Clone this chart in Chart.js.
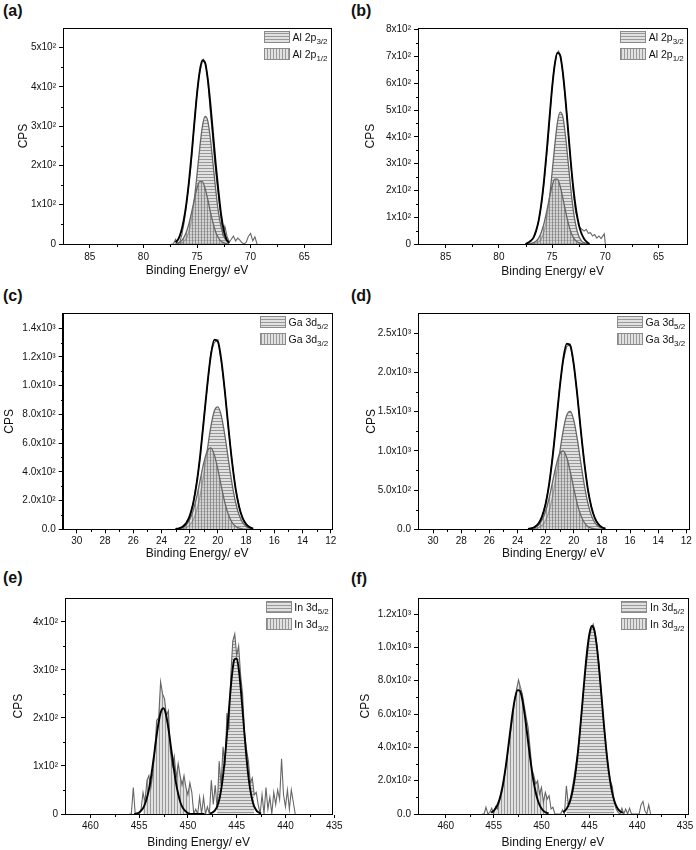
<!DOCTYPE html>
<html>
<head>
<meta charset="utf-8">
<script src="https://cdn.jsdelivr.net/npm/chart.js@4.4.1/dist/chart.umd.min.js"></script>
<style>
  body { margin: 0; background: #fff; width: 696px; height: 850px; position: relative; overflow: hidden;
         font-family: Arial, "Liberation Sans", sans-serif; }
  canvas { position: absolute; }
  .tag { position: absolute; font-weight: bold; font-size: 16px; line-height: 18px; color: #111; }
</style>
</head>
<body>
<div class="tag" style="left:3px;top:2px">(a)</div>
<div class="tag" style="left:351px;top:2px">(b)</div>
<div class="tag" style="left:3px;top:287px">(c)</div>
<div class="tag" style="left:351px;top:287px">(d)</div>
<div class="tag" style="left:3px;top:569px">(e)</div>
<div class="tag" style="left:351px;top:570px">(f)</div>

<canvas id="chartA" width="348" height="280" style="left:0;top:0"></canvas>
<canvas id="chartB" width="348" height="280" style="left:348px;top:0"></canvas>
<canvas id="chartC" width="348" height="290" style="left:0;top:280px"></canvas>
<canvas id="chartD" width="348" height="290" style="left:348px;top:280px"></canvas>
<canvas id="chartE" width="348" height="290" style="left:0;top:560px"></canvas>
<canvas id="chartF" width="348" height="290" style="left:348px;top:560px"></canvas>

<script>
// ---- (a) Al 2p ----
const aFitX = [77.0, 76.75, 76.5, 76.25, 76.0, 75.75, 75.5, 75.25, 75.0, 74.75, 74.5, 74.25, 74.0, 73.75, 73.5, 73.25, 73.0, 72.75, 72.5, 72.25, 72.0];
const aEnvelope = [4, 12, 30, 59, 101, 158, 229, 307, 382, 439, 468, 462, 421, 356, 279, 202, 135, 75, 35, 12, 3];
const aP32 = [0, 1, 2, 6, 14, 32, 64, 113, 176, 243, 299, 325, 314, 268, 203, 137, 81, 43, 20, 8, 3];
const aP12 = [1, 3, 7, 15, 30, 52, 81, 113, 142, 159, 159, 142, 114, 82, 53, 30, 16, 7, 3, 1, 0];
const aRawX = [77.4, 77.2, 77.0, 76.8, 76.6, 76.4, 76.2, 76.0, 75.8, 75.6, 75.4, 75.2, 75.0, 74.8, 74.6, 74.4, 74.2, 74.0, 73.8, 73.6,
               73.4, 73.2, 73.0, 72.8, 72.6, 72.4, 72.2, 72.0, 71.8, 71.6, 71.4, 71.2, 71.0, 70.8, 70.6, 70.4, 70.2, 70.0, 69.8, 69.6, 69.4];
const aRawY = [0, 0, 12, 0, 5, 25, 55, 96, 145, 190, 255, 325, 385, 430, 455, 470, 460, 420, 350, 290,
               225, 170, 122, 75, 25, 45, 20, 5, 12, 20, 8, 15, 10, 3, 0, 5, 20, 27, 8, 18, 0];
const aXTicks = [85, 80, 75, 70, 65];
const aXMinor = [82.5, 77.5, 72.5, 67.5];
const aYTicks = [0, 100, 200, 300, 400, 500];
const aYLabels = ['0', '1x10²', '2x10²', '3x10²', '4x10²', '5x10²'];
const aYMinor = [50, 150, 250, 350, 450];

// ---- (b) Al 2p ----
const bFitX = [77.5, 77.25, 77.0, 76.75, 76.5, 76.25, 76.0, 75.75, 75.5, 75.25, 75.0, 74.75, 74.5, 74.25, 74.0, 73.75, 73.5, 73.25, 73.0, 72.75, 72.5, 72.25, 72.0, 71.75, 71.5];
const bEnvelope = [0, 5, 12, 24, 50, 90, 154, 241, 349, 468, 583, 670, 714, 705, 642, 543, 426, 308, 206, 128, 73, 40, 20, 8, 0];
const bP32 = [0, 0, 0, 2, 3, 9, 21, 48, 97, 171, 267, 368, 453, 492, 476, 406, 308, 208, 123, 65, 30, 12, 5, 2, 0];
const bP12 = [0, 1, 2, 5, 11, 23, 46, 79, 123, 172, 216, 242, 242, 216, 173, 125, 81, 46, 24, 11, 5, 2, 0, 0, 0];
const bRawX = [77.4, 77.2, 77.0, 76.8, 76.6, 76.4, 76.2, 76.0, 75.8, 75.6, 75.4, 75.2, 75.0, 74.8, 74.6, 74.4, 74.2, 74.0, 73.8, 73.6,
               73.4, 73.2, 73.0, 72.8, 72.6, 72.4, 72.2, 72.0, 71.8, 71.6, 71.4, 71.2, 71.0, 70.8, 70.6, 70.4, 70.2, 70.1, 70.0];
const bRawY = [0, 5, 12, 20, 38, 62, 100, 150, 215, 295, 380, 485, 585, 660, 705, 720, 700, 640, 560, 470,
               375, 280, 190, 120, 95, 62, 55, 48, 55, 40, 42, 30, 35, 22, 30, 20, 32, 38, 0];
const bXTicks = [85, 80, 75, 70, 65];
const bXMinor = [82.5, 77.5, 72.5, 67.5];
const bYTicks = [0, 100, 200, 300, 400, 500, 600, 700, 800];
const bYLabels = ['0', '1x10²', '2x10²', '3x10²', '4x10²', '5x10²', '6x10²', '7x10²', '8x10²'];
const bYMinor = [50, 150, 250, 350, 450, 550, 650, 750];

// ---- (c) Ga 3d ----
const cFitX = [23.0, 22.75, 22.5, 22.25, 22.0, 21.75, 21.5, 21.25, 21.0, 20.75, 20.5, 20.25, 20.0, 19.75, 19.5, 19.25, 19.0, 18.75, 18.5, 18.25, 18.0, 17.75, 17.5];
const cEnvelope = [2, 7, 18, 42, 92, 180, 321, 517, 757, 1004, 1209, 1320, 1307, 1174, 956, 706, 474, 288, 159, 79, 36, 15, 5];
const cD52 = [0, 1, 4, 12, 29, 65, 132, 237, 383, 552, 713, 824, 852, 788, 652, 483, 320, 190, 101, 48, 20, 8, 3];
const cD32 = [1, 4, 12, 30, 67, 131, 226, 345, 462, 545, 567, 518, 417, 296, 184, 101, 49, 21, 8, 3, 1, 0, 0];
const cRaw = [0, 5, 20, 45, 88, 185, 330, 505, 770, 990, 1230, 1300, 1320, 1160, 960, 700, 480, 280, 165, 75, 40, 10, 0];
const cXTicks = [30, 28, 26, 24, 22, 20, 18, 16, 14, 12];
const cXMinor = [29, 27, 25, 23, 21, 19, 17, 15, 13];
const cYTicks = [0, 200, 400, 600, 800, 1000, 1200, 1400];
const cYLabels = ['0.0', '2.0x10²', '4.0x10²', '6.0x10²', '8.0x10²', '1.0x10³', '1.2x10³', '1.4x10³'];
const cYMinor = [100, 300, 500, 700, 900, 1100, 1300];

// ---- (d) Ga 3d ----
const dFitX = [23.25, 23.0, 22.75, 22.5, 22.25, 22.0, 21.75, 21.5, 21.25, 21.0, 20.75, 20.5, 20.25, 20.0, 19.75, 19.5, 19.25, 19.0, 18.75, 18.5, 18.25, 18.0, 17.75];
const dEnvelope = [4, 13, 32, 75, 165, 323, 576, 927, 1357, 1800, 2168, 2367, 2343, 2105, 1714, 1266, 850, 516, 285, 142, 65, 27, 9];
const dD52 = [0, 2, 7, 21, 51, 115, 233, 419, 677, 975, 1260, 1456, 1505, 1392, 1152, 853, 565, 336, 178, 85, 35, 14, 5];
const dD32 = [2, 7, 21, 53, 118, 231, 399, 609, 816, 962, 1001, 915, 736, 523, 325, 178, 87, 37, 14, 5, 2, 0, 0];
const dRaw = [0, 10, 35, 80, 160, 330, 560, 940, 1340, 1820, 2150, 2330, 2360, 2100, 1720, 1250, 860, 500, 290, 140, 60, 20, 0];
const dXTicks = [30, 28, 26, 24, 22, 20, 18, 16, 14, 12];
const dXMinor = [29, 27, 25, 23, 21, 19, 17, 15, 13];
const dYTicks = [0, 500, 1000, 1500, 2000, 2500];
const dYLabels = ['0.0', '5.0x10²', '1.0x10³', '1.5x10³', '2.0x10³', '2.5x10³'];
const dYMinor = [250, 750, 1250, 1750, 2250];

// ---- (e) In 3d ----
const eFit32X = [455.5, 455.0, 454.75, 454.5, 454.25, 454.0, 453.75, 453.5, 453.25, 453.0, 452.75, 452.5, 452.25, 452.0, 451.75, 451.5, 451.25, 451.0, 450.75, 450.5, 450.25, 450.0, 449.5, 448.3];
const eFit32Y = [0, 3, 8, 16, 30, 51, 81, 118, 157, 191, 214, 220, 207, 178, 141, 103, 68, 42, 23, 12, 6, 2, 0, 0];
const eFit52X = [447.75, 447.5, 447.25, 447.0, 446.75, 446.5, 446.25, 446.0, 445.75, 445.5, 445.25, 445.0, 444.75, 444.5, 444.25, 444.0, 443.75, 443.5, 443.25, 443.0, 442.75, 442.5];
const eFit52Y = [1, 3, 7, 16, 33, 63, 107, 165, 229, 286, 321, 324, 295, 241, 178, 118, 70, 38, 18, 8, 3, 1];
const eRawX = [456.0, 455.8, 455.6, 455.4, 455.2, 455.0, 454.8, 454.6, 454.4, 454.2,
               454.0, 453.8, 453.6, 453.4, 453.2, 453.0, 452.8, 452.6, 452.4, 452.2,
               452.0, 451.8, 451.6, 451.4, 451.2, 451.0, 450.8, 450.6, 450.4, 450.2,
               450.0, 449.8, 449.6, 449.4, 449.2, 449.0, 448.8, 448.6, 448.4, 448.2,
               448.0, 447.8, 447.6, 447.4, 447.2, 447.0, 446.8, 446.6, 446.4, 446.2,
               446.0, 445.8, 445.6, 445.4, 445.2, 445.0, 444.8, 444.6, 444.4, 444.2,
               444.0, 443.8, 443.6, 443.4, 443.2, 443.0, 442.8, 442.6, 442.4, 442.2,
               442.0, 441.8, 441.6, 441.4, 441.2, 441.0, 440.8, 440.6, 440.4, 440.2,
               440.0, 439.8, 439.6, 439.4, 439.2, 439.0];
const eRawY = [0, 0, 55, 0, 0, 0, 10, 45, 25, 70,
               80, 55, 85, 130, 195, 200, 275, 250, 240, 205,
               215, 130, 100, 120, 75, 105, 80, 60, 80, 55,
               40, 65, 45, 0, 10, 0, 35, 0, 35, 0,
               15, 0, 70, 20, 60, 10, 110, 60, 140, 100,
               210, 175, 290, 360, 375, 330, 350, 290, 250, 170,
               135, 110, 65, 75, 40, 45, 20, 0, 40, 0,
               55, 10, 35, 0, 45, 20, 50, 30, 115, 40,
               15, 50, 10, 50, 25, 0];
const eBand32 = [449.8, 454.6];
const eBand52 = [443.2, 447.0];
const eXTicks = [460, 455, 450, 445, 440, 435];
const eXMinor = [457.5, 452.5, 447.5, 442.5, 437.5];
const eYTicks = [0, 100, 200, 300, 400];
const eYLabels = ['0', '1x10²', '2x10²', '3x10²', '4x10²'];
const eYMinor = [50, 150, 250, 350];

// ---- (f) In 3d ----
const fFit32X = [455.25, 455.0, 454.75, 454.5, 454.25, 454.0, 453.75, 453.5, 453.25, 453.0, 452.75, 452.5, 452.25, 452.0, 451.75, 451.5, 451.25, 451.0, 450.75, 450.5, 450.25, 450.0, 449.75, 449.5, 449.25];
const fFit32Y = [8, 19, 37, 68, 117, 186, 278, 388, 505, 615, 700, 744, 739, 686, 595, 482, 365, 258, 171, 105, 61, 33, 17, 8, 3];
const fFit52X = [447.75, 447.5, 447.25, 447.0, 446.75, 446.5, 446.25, 446.0, 445.75, 445.5, 445.25, 445.0, 444.75, 444.5, 444.25, 444.0, 443.75, 443.5, 443.25, 443.0, 442.75, 442.5, 442.25, 442.0, 441.75, 441.5];
const fFit52Y = [11, 22, 44, 80, 138, 224, 340, 485, 651, 821, 972, 1080, 1129, 1108, 1021, 885, 720, 550, 395, 266, 169, 100, 56, 29, 15, 7];
const fRawX = [456.2, 456.0, 455.8, 455.6, 455.4, 455.2, 455.0, 454.8, 454.6, 454.4,
               454.2, 454.0, 453.8, 453.6, 453.4, 453.2, 453.0, 452.8, 452.6, 452.4,
               452.2, 452.0, 451.8, 451.6, 451.4, 451.2, 451.0, 450.8, 450.6, 450.4,
               450.2, 450.0, 449.8, 449.6, 449.4, 449.2, 449.0, 448.8, 448.6, 448.4,
               448.2, 448.0, 447.8, 447.6, 447.4, 447.2, 447.0, 446.8, 446.6, 446.4,
               446.2, 446.0, 445.8, 445.6, 445.4, 445.2, 445.0, 444.8, 444.6, 444.4,
               444.2, 444.0, 443.8, 443.6, 443.4, 443.2, 443.0, 442.8, 442.6, 442.4,
               442.2, 442.0, 441.8, 441.6, 441.4, 441.2, 441.0, 440.8, 440.6, 440.4,
               440.2, 440.0, 439.8, 439.6, 439.4, 439.2, 439.0, 438.8, 438.6];
const fRawY = [0, 0, 40, 0, 10, 35, 0, 45, 30, 75,
               110, 175, 250, 330, 420, 500, 590, 680, 750, 805,
               760, 720, 650, 580, 520, 400, 270, 230, 180, 200,
               120, 160, 70, 130, 90, 110, 30, 40, 0, 0,
               0, 0, 25, 0, 170, 60, 90, 150, 220, 300,
               380, 490, 610, 740, 860, 960, 1060, 1110, 1140, 1090,
               1010, 900, 760, 620, 480, 370, 270, 200, 165, 70,
               30, 10, 0, 35, 0, 30, 0, 35, 0, 0,
               0, 0, 0, 55, 75, 20, 0, 55, 0];
const fBand32 = [449.4, 454.8];
const fBand52 = [442.4, 447.4];
const fXTicks = [460, 455, 450, 445, 440, 435];
const fXMinor = [457.5, 452.5, 447.5, 442.5, 437.5];
const fYTicks = [0, 200, 400, 600, 800, 1000, 1200];
const fYLabels = ['0.0', '2.0x10²', '4.0x10²', '6.0x10²', '8.0x10²', '1.0x10³', '1.2x10³'];
const fYMinor = [100, 300, 500, 700, 900, 1100];

const alLegend = [['Al 2p', '3/2', 'h'], ['Al 2p', '1/2', 'v']];
const gaLegend = [['Ga 3d', '5/2', 'h'], ['Ga 3d', '3/2', 'v']];
const inLegend = [['In 3d', '5/2', 'h'], ['In 3d', '3/2', 'v']];

// ---- helpers ----
const FONT = 'Arial, "Liberation Sans", sans-serif';
const FIT = '#000';
const GREY = '#666';
Chart.defaults.font.family = FONT;
Chart.defaults.color = '#111';

function pts(xs, ys) {
  return xs.map((x, i) => ({ x: x, y: ys[i] }));
}
// points of the raw spectrum that lie in an energy window (used for the hatched areas in e, f)
function band(xs, ys, win) {
  return pts(xs, ys).filter(p => p.x >= win[0] && p.x <= win[1]);
}

function makeHatch(ctx, dir) {
  const c = document.createElement('canvas');
  c.width = 3; c.height = 3;
  const g = c.getContext('2d');
  g.fillStyle = 'rgba(200,200,200,0.55)';
  g.fillRect(0, 0, 3, 3);
  g.fillStyle = 'rgba(105,105,105,0.6)';
  if (dir === 'h') g.fillRect(0, 0, 3, 1);
  else g.fillRect(0, 0, 1, 3);
  return ctx.createPattern(c, 'repeat');
}

function drawPanel(p) {
  const canvas = document.getElementById(p.id);
  const ctx = canvas.getContext('2d');
  const hatch = { h: makeHatch(ctx, 'h'), v: makeHatch(ctx, 'v') };

  const datasets = p.series.map(s => ({
    data: s.data,
    borderColor: s.color || 'transparent',
    borderWidth: s.width || 0,
    fill: s.hatch ? 'origin' : false,
    backgroundColor: s.hatch ? hatch[s.hatch] : 'transparent',
    pointRadius: 0,
    tension: s.smooth ? 0.4 : 0,
    cubicInterpolationMode: s.smooth ? 'monotone' : 'default'
  }));

  // box frame, minor ticks and the hatched legend
  const frame = {
    id: 'frame',
    afterDraw(chart) {
      const c = chart.ctx, a = chart.chartArea;
      const x = chart.scales.x, y = chart.scales.y;
      const L = Math.round(a.left) + 0.5, R = Math.round(a.right) + 0.5;
      const T = Math.round(a.top) + 0.5, B = Math.round(a.bottom) + 0.5;
      c.save();
      c.strokeStyle = '#000';
      c.lineWidth = 1;
      c.strokeRect(L, T, R - L, B - T);
      c.beginPath();
      p.xMinor.forEach(v => {
        const px = Math.round(x.getPixelForValue(v)) + 0.5;
        c.moveTo(px, B); c.lineTo(px, B + 2.5);
      });
      p.yMinor.forEach(v => {
        const py = Math.round(y.getPixelForValue(v)) + 0.5;
        c.moveTo(L, py); c.lineTo(L - 2.5, py);
      });
      c.stroke();

      p.legend.forEach((item, i) => {
        const main = item[0], sub = item[1];
        c.font = '10.5px ' + FONT;
        const wm = c.measureText(main).width;
        c.font = '8px ' + FONT;
        const ws = c.measureText(sub).width;
        const tx = a.right - 3.5 - wm - ws;
        const bx = Math.round(tx - 3.5 - 25), by = Math.round(a.top + 3 + i * 16.5);
        c.fillStyle = hatch[item[2]];
        c.fillRect(bx, by, 25, 12);
        c.strokeStyle = '#8a8a8a';
        c.strokeRect(bx + 0.5, by + 0.5, 25, 11);
        c.fillStyle = '#111';
        c.font = '10.5px ' + FONT;
        c.fillText(main, tx, by + 10);
        c.font = '8px ' + FONT;
        c.fillText(sub, tx + wm, by + 12.5);
      });
      c.restore();
    }
  };

  new Chart(ctx, {
    type: 'line',
    data: { datasets: datasets },
    plugins: [frame],
    options: {
      responsive: false,
      animation: false,
      events: [],
      layout: { padding: p.pad },
      plugins: { legend: { display: false }, tooltip: { enabled: false } },
      scales: {
        x: {
          type: 'linear',
          reverse: true,
          min: p.xRange[0],
          max: p.xRange[1],
          afterBuildTicks: s => { s.ticks = p.xTicks.map(v => ({ value: v })); },
          afterFit: s => { s.height = p.xHeight; },
          ticks: { autoSkip: false, maxRotation: 0, padding: p.xTickPad, font: { size: 10 }, color: '#111' },
          grid: { drawOnChartArea: false, drawTicks: true, tickLength: 4, color: '#000' },
          border: { display: true, color: '#000' },
          title: { display: true, text: 'Binding Energy/ eV', font: { size: 12 }, color: '#111',
                   padding: { top: 0, bottom: p.xTitlePad } }
        },
        y: {
          type: 'linear',
          min: 0,
          max: p.yMax,
          afterBuildTicks: s => { s.ticks = p.yTicks.map(v => ({ value: v })); },
          afterFit: s => { s.width = p.yWidth; },
          ticks: { autoSkip: false, padding: 3, font: { size: 10 }, color: '#111',
                   callback: (v, i) => p.yLabels[i] },
          grid: { drawOnChartArea: false, drawTicks: true, tickLength: 4, color: '#000' },
          border: { display: true, color: '#000' },
          title: { display: true, text: 'CPS', font: { size: 12 }, color: '#111',
                   padding: { top: p.yTitlePad, bottom: 0 } }
        }
      }
    }
  });
}

drawPanel({
  id: 'chartA', pad: { left: 0, right: 17, top: 28, bottom: 0 }, yWidth: 63, xHeight: 36,
  xRange: [62.5, 87.5], yMax: 550, xTickPad: 3, xTitlePad: 2, yTitlePad: 16,
  xTicks: aXTicks, xMinor: aXMinor, yTicks: aYTicks, yLabels: aYLabels, yMinor: aYMinor, legend: alLegend,
  series: [
    { data: pts(aFitX, aEnvelope), color: FIT, width: 1.9, smooth: true },
    { data: pts(aRawX, aRawY), color: GREY, width: 1.1 },
    { data: pts(aFitX, aP12), color: GREY, width: 1.3, smooth: true, hatch: 'v' },
    { data: pts(aFitX, aP32), color: GREY, width: 1.3, smooth: true, hatch: 'h' }
  ]
});

drawPanel({
  id: 'chartB', pad: { left: 0, right: 8.7, top: 28.3, bottom: 0 }, yWidth: 70, xHeight: 36,
  xRange: [62.3, 87.6], yMax: 805, xTickPad: 3, xTitlePad: 1.5, yTitlePad: 15,
  xTicks: bXTicks, xMinor: bXMinor, yTicks: bYTicks, yLabels: bYLabels, yMinor: bYMinor, legend: alLegend,
  series: [
    { data: pts(bFitX, bEnvelope), color: FIT, width: 1.9, smooth: true },
    { data: pts(bRawX, bRawY), color: GREY, width: 1.1 },
    { data: pts(bFitX, bP12), color: GREY, width: 1.3, smooth: true, hatch: 'v' },
    { data: pts(bFitX, bP32), color: GREY, width: 1.3, smooth: true, hatch: 'h' }
  ]
});

drawPanel({
  id: 'chartC', pad: { left: 0, right: 16.3, top: 33.3, bottom: 0 }, yWidth: 62.7, xHeight: 40.7,
  xRange: [11.93, 31.0], yMax: 1504, xTickPad: 2, xTitlePad: 8.8, yTitlePad: 2.8,
  xTicks: cXTicks, xMinor: cXMinor, yTicks: cYTicks, yLabels: cYLabels, yMinor: cYMinor, legend: gaLegend,
  series: [
    { data: pts(cFitX, cEnvelope), color: FIT, width: 1.9, smooth: true },
    { data: pts(cFitX, cRaw), color: GREY, width: 1.1 },
    { data: pts(cFitX, cD32), color: GREY, width: 1.3, smooth: true, hatch: 'v' },
    { data: pts(cFitX, cD52), color: GREY, width: 1.3, smooth: true, hatch: 'h' }
  ]
});

drawPanel({
  id: 'chartD', pad: { left: 0, right: 7.3, top: 33.3, bottom: 0 }, yWidth: 70, xHeight: 40.7,
  xRange: [11.83, 31.07], yMax: 2755, xTickPad: 2, xTitlePad: 8.8, yTitlePad: 16,
  xTicks: dXTicks, xMinor: dXMinor, yTicks: dYTicks, yLabels: dYLabels, yMinor: dYMinor, legend: gaLegend,
  series: [
    { data: pts(dFitX, dEnvelope), color: FIT, width: 1.9, smooth: true },
    { data: pts(dFitX, dRaw), color: GREY, width: 1.1 },
    { data: pts(dFitX, dD32), color: GREY, width: 1.3, smooth: true, hatch: 'v' },
    { data: pts(dFitX, dD52), color: GREY, width: 1.3, smooth: true, hatch: 'h' }
  ]
});

drawPanel({
  id: 'chartE', pad: { left: 0, right: 15.7, top: 38.3, bottom: 0 }, yWidth: 65, xHeight: 36,
  xRange: [435.2, 462.6], yMax: 449, xTickPad: 2.5, xTitlePad: 0.5, yTitlePad: 11.8,
  xTicks: eXTicks, xMinor: eXMinor, yTicks: eYTicks, yLabels: eYLabels, yMinor: eYMinor, legend: inLegend,
  series: [
    { data: pts(eFit32X, eFit32Y), color: FIT, width: 1.9, smooth: true },
    { data: pts(eFit52X, eFit52Y), color: FIT, width: 1.9, smooth: true },
    { data: pts(eRawX, eRawY), color: GREY, width: 1.1 },
    { data: band(eRawX, eRawY, eBand32), hatch: 'v' },
    { data: band(eRawX, eRawY, eBand52), hatch: 'h' }
  ]
});

drawPanel({
  id: 'chartF', pad: { left: 0, right: 8, top: 38.3, bottom: 0 }, yWidth: 70, xHeight: 36,
  xRange: [434.7, 462.9], yMax: 1295, xTickPad: 2.5, xTitlePad: 0.5, yTitlePad: 10.3,
  xTicks: fXTicks, xMinor: fXMinor, yTicks: fYTicks, yLabels: fYLabels, yMinor: fYMinor, legend: inLegend,
  series: [
    { data: pts(fFit32X, fFit32Y), color: FIT, width: 1.9, smooth: true },
    { data: pts(fFit52X, fFit52Y), color: FIT, width: 1.9, smooth: true },
    { data: pts(fRawX, fRawY), color: GREY, width: 1.1 },
    { data: band(fRawX, fRawY, fBand32), hatch: 'v' },
    { data: band(fRawX, fRawY, fBand52), hatch: 'h' }
  ]
});
</script>
</body>
</html>
